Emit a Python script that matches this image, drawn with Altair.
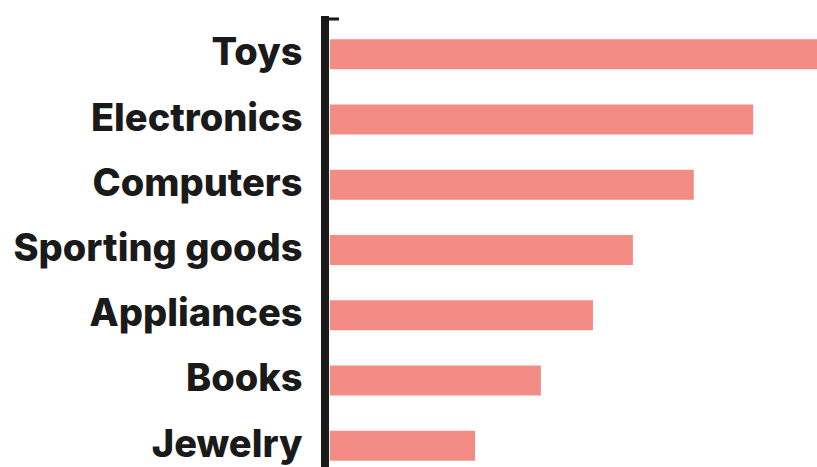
import altair as alt
import pandas as pd

categories = ["Toys", "Electronics", "Computers", "Sporting goods", "Appliances", "Books", "Jewelry"]
values = [100, 86.9, 74.7, 62.2, 54.0, 43.3, 29.8]

df = pd.DataFrame({"category": categories, "value": values})

bars = alt.Chart(df).mark_bar(color="#F48C86", opacity=1).encode(
    y=alt.Y("category:N", sort=categories,
            scale=alt.Scale(range=[39.3, 460.7], paddingInner=0.54, paddingOuter=0),
            axis=alt.Axis(title=None, domain=False, ticks=False, labelPadding=28,
                          labelFont="Inter", labelFontSize=38, labelFontWeight=800,
                          labelColor="#1a1a1a", labelLimit=400)),
    x=alt.X("value:Q", scale=alt.Scale(domain=[0, 100], range=[0, 487]),
            axis=None),
)

vline = alt.Chart(df).mark_rule(color="#1a1a1a", strokeWidth=8).encode(
    x=alt.value(-5), y=alt.value(16), y2=alt.value(467)
)
topcap = alt.Chart(df).mark_rule(color="#1a1a1a", strokeWidth=2.2).encode(
    x=alt.value(-9), x2=alt.value(9), y=alt.value(19)
)

chart = alt.layer(bars, vline, topcap).properties(
    width=487, height=467,
    background="white",
    padding={"left": 330, "top": 0, "right": 0, "bottom": 0},
    autosize=alt.AutoSizeParams(type="none"),
).configure_view(stroke="transparent", strokeWidth=0)

chart.save("out.html", embed_options={"renderer": "svg", "actions": False})
